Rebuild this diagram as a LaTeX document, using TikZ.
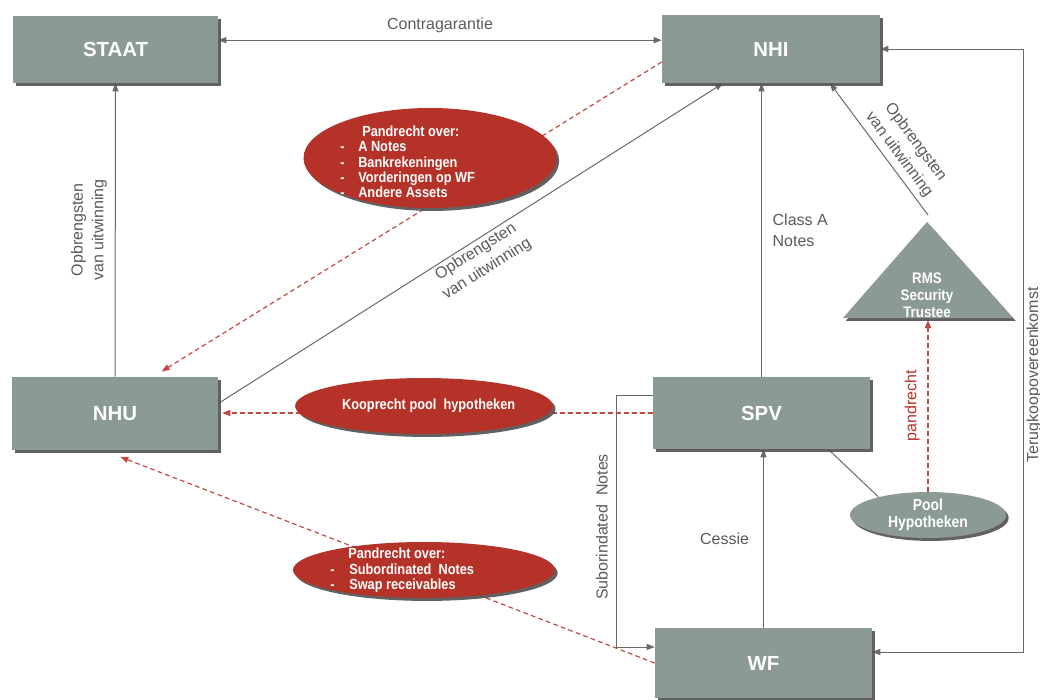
\documentclass[tikz,border=0pt]{standalone}
\usepackage{fontspec}
\setmainfont{Liberation Sans}
\newfontfamily\nbf[FakeStretch=0.87]{Liberation Sans}
\usetikzlibrary{arrows.meta,shapes.geometric,shadows,backgrounds,calc}
\definecolor{boxfill}{RGB}{139,154,146}
\definecolor{redfill}{RGB}{181,50,40}
\definecolor{reddash}{RGB}{196,72,66}
\definecolor{lblgray}{RGB}{90,90,90}
\definecolor{linegray}{RGB}{105,105,105}
\definecolor{shadowgray}{RGB}{80,80,80}
\tikzset{
  shad/.style={drop shadow={shadow xshift=2pt,shadow yshift=-2.2pt,fill=shadowgray,opacity=0.9}},
  box/.style={rectangle, fill=boxfill, text=white, inner sep=0pt, shad,
    font=\fontsize{15.3}{18}\selectfont\bfseries},
  redell/.style={ellipse, fill=redfill, inner sep=0pt, shad, text=white,
    font={\nbf\bfseries\fontsize{11}{11.5}\selectfont}},
  grayell/.style={ellipse, fill=boxfill, inner sep=0pt, shad, text=white, align=center,
    font={\nbf\bfseries\fontsize{12}{12.5}\selectfont}},
  elltext/.style={text=white, inner sep=0pt, align=left, anchor=west,
    font={\nbf\bfseries\fontsize{11}{11.5}\selectfont}},
  lbl/.style={text=lblgray, inner sep=1.5pt, align=center,
    font=\fontsize{12}{15.5}\selectfont},
  tipa/.tip={Triangle[length=6pt,width=4.5pt]},
  arr/.style={draw=linegray, line width=0.75pt, -tipa},
  arrtwo/.style={draw=linegray, line width=0.75pt, tipa-tipa},
  plainline/.style={draw=linegray, line width=0.75pt},
  rdash/.style={draw=reddash, line width=0.9pt, dash pattern=on 3.5pt off 2.5pt, -tipa}
}
\begin{document}
\begin{tikzpicture}[x=0.75pt,y=-0.75pt]
\useasboundingbox (0,0) rectangle (1040,700);

% boxes
\node[box, minimum width=153.75pt, minimum height=50.25pt] (staat) at (115.5,49.5) {STAAT};
\node[box, minimum width=163.5pt, minimum height=51pt] (nhi) at (771,49) {NHI};
\node[box, minimum width=154.5pt, minimum height=54.75pt] (nhu) at (115,413.5) {NHU};
\node[box, minimum width=162.75pt, minimum height=54pt] (spv) at (761.5,413) {SPV};
\node[box, minimum width=162.75pt, minimum height=52.5pt] (wf) at (763.5,663) {WF};

% red ellipses
\node[redell, minimum width=189.75pt, minimum height=75pt] (ptop) at (430,158) {};
\node[elltext] (ptoptext) at (340,162) {\hspace*{16.5pt}Pandrecht over:\\
  \makebox[13.5pt][l]{-}A Notes\\
  \makebox[13.5pt][l]{-}Bankrekeningen\\
  \makebox[13.5pt][l]{-}Vorderingen op WF\\
  \makebox[13.5pt][l]{-}Andere Assets};
\node[redell, minimum width=192.75pt, minimum height=42pt] (koop) at (424,406) {\hspace*{7pt}Kooprecht pool\ \ hypotheken};
\node[redell, minimum width=196.5pt, minimum height=42pt] (pbot) at (424,570) {};
\node[elltext] (pbottext) at (330,570.5) {\hspace*{13.5pt}Pandrecht over:\\
  \makebox[14.25pt][l]{-}Subordinated\ \ Notes\\
  \makebox[14.25pt][l]{-}Swap receivables};

% pool ellipse
\node[grayell, minimum width=117pt, minimum height=34.5pt] (pool) at (928,515) {Pool\\Hypotheken};

% RMS triangle
\draw[fill=boxfill, draw=none, shad] (843,318) -- (927,222) -- (1013,318) -- cycle;
\node[text=white, align=center, inner sep=0pt,
  font={\nbf\bfseries\fontsize{11.5}{12.75}\selectfont}] (rms) at (927,295) {RMS\\Security\\Trustee};
\coordinate (rmsapex) at (928,215);
\coordinate (rmsbase) at (928,320);

\begin{scope}[on background layer]
  % Contragarantie
  \draw[arrtwo] ([yshift=7pt]staat.east) -- node[lbl, above=4pt]{Contragarantie} ([yshift=7pt]staat.east -| nhi.west);
  % NHU -> STAAT
  \draw[arr] (nhu.north) -- node[lbl, sloped, above=4.5pt]{Opbrengsten\\van uitwinning} (staat.south);
  % NHU -> NHI
  \draw[arr] ([yshift=7.5pt]nhu.east) -- node[lbl, sloped, below=0pt, pos=0.5]{Opbrengsten\\van uitwinning} ([xshift=-36pt]nhi.south);
  % NHI -> NHU red dashed
  \draw[rdash] ([yshift=-9.75pt]nhi.west) -- ([xshift=35pt,yshift=4pt]nhu.north);
  % SPV -> NHU Kooprecht
  \draw[rdash] (spv.west) -- ($(spv.west -| nhu.east)+(3pt,0)$);
  % WF -> NHU
  \draw[rdash] (wf.west) -- ([xshift=4pt,yshift=-5pt]nhu.south);
  % SPV -> NHI Class A Notes
  \draw[arr] (spv.north) -- node[lbl, right=6.5pt, align=left]{Class A\\Notes} (spv.north |- nhi.south);
  % RMS -> NHI
  \draw[arr] (rmsapex) -- node[lbl, sloped, above=2pt, pos=0.4]{Opbrengsten\\van uitwinning} ([xshift=44.25pt]nhi.south);
  % pandrecht
  \draw[rdash] (pool.north) -- node[sloped, above=4.3pt, inner sep=1.5pt, text=redfill, font=\fontsize{12}{14}\selectfont]{pandrecht} (pool.north |- rmsbase);
  % SPV -- pool
  \draw[plainline] ([xshift=-31.5pt]spv.south east) -- (pool.160);
  % Cessie
  \draw[arr] (wf.north) -- node[lbl, left=9pt]{Cessie} (wf.north |- spv.south);
  % Subordinated notes
  \draw[arr] ([yshift=13.5pt]spv.west) -- ++(-27pt,0) |- ([yshift=12pt]wf.west);
  \node[lbl, rotate=90] (sublbl) at (602,527) {Suborindated\ \ Notes};
  % Terugkoopovereenkomst
  \draw[arrtwo] (nhi.east) -- ++(107.25pt,0) |- ([yshift=8.25pt]wf.east);
  \node[lbl, rotate=90] (terlbl) at (1034,375) {Terugkoopovereenkomst};
\end{scope}
\end{tikzpicture}
\end{document}
